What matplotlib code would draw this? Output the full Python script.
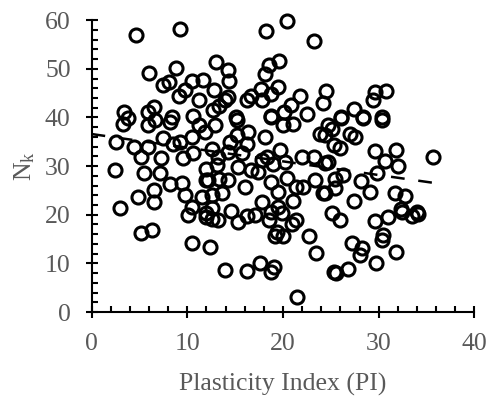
import matplotlib
matplotlib.use("Agg")
import matplotlib.pyplot as plt
import numpy as np

# Data
pi_values = [
    4.6, 9.2, 13.0, 6.0, 8.8, 7.5, 8.1, 10.5, 11.6, 9.8, 9.1, 11.2, 6.5, 3.4, 5.9, 8.4,
    10.6, 12.7, 3.8, 18.2, 20.4, 23.2, 14.3, 14.4, 12.8, 13.9, 13.3, 15.1, 18.5, 19.6,
    18.1, 17.7, 19.5, 18.8, 16.7, 16.2, 21.8, 20.8, 20.1, 24.5, 24.2, 18.7, 30.8, 29.6,
    29.4, 27.4, 26.1, 28.4, 30.3, 3.3, 5.9, 6.6, 8.2, 11.2, 2.6, 4.4, 5.9, 5.2, 7.3,
    8.5, 7.5, 9.2, 10.5, 10.6, 11.9, 2.5, 5.5, 7.2, 9.4, 8.2, 12.0, 6.5, 4.9, 6.5, 3.0,
    9.8, 10.5, 10.1, 12.0, 11.5, 5.2, 6.3, 12.0, 10.5, 12.4, 13.9, 16.2, 17.6, 18.7,
    19.1, 19.2, 20.0, 22.7, 23.5, 21.5, 12.6, 13.2, 15.3, 16.2, 17.1, 18.7, 19.9, 20.9,
    21.4, 25.3, 26.0, 29.6, 31.0, 32.4, 33.5, 34.1, 27.2, 28.3, 28.0, 30.5, 30.3, 31.8,
    29.7, 25.5, 26.8, 26.1, 25.1, 28.4, 30.3, 27.0, 27.5, 26.0, 29.6, 31.8, 30.7, 32.0,
    35.7, 24.4, 29.8, 26.3, 25.4, 28.2, 25.4, 29.1, 31.7, 32.8, 27.4, 32.3, 34.0, 24.4,
    12.9, 15.2, 16.4, 14.5, 16.2, 12.6, 14.3, 15.7, 13.1, 15.3, 14.3, 12.2, 16.0, 13.6,
    12.6, 18.7, 20.0, 21.1, 18.1, 19.7, 22.0, 20.2, 19.0, 17.8, 18.7, 20.4, 22.1, 19.5,
    17.8, 19.5, 21.1, 23.4, 24.2, 23.9, 24.4, 24.7, 24.7, 14.6, 12.6, 21.4, 13.2, 17.4,
    12.0, 14.3, 18.3, 25.3, 13.3, 18.5, 25.1, 23.2, 16.7, 9.6, 15.2, 17.8, 22.5, 19.4,
]
nk_values = [
    56.9, 58.1, 51.4, 49.2, 50.2, 46.6, 47.3, 47.6, 47.8, 45.6, 44.4, 43.5, 42.2, 41.1,
    41.1, 40.1, 40.4, 41.5, 39.8, 57.8, 59.8, 55.7, 49.7, 47.4, 45.6, 43.5, 42.3, 40.1,
    50.7, 51.7, 48.9, 45.9, 46.3, 44.8, 44.4, 43.5, 44.4, 42.6, 41.1, 45.4, 43.0, 40.1,
    45.4, 45.2, 43.5, 41.8, 40.2, 40.1, 40.0, 38.7, 38.4, 39.4, 39.1, 38.4, 35.0, 33.9,
    33.9, 31.9, 31.6, 34.6, 35.7, 35.0, 36.0, 32.6, 37.0, 29.3, 28.6, 28.6, 26.5, 26.3,
    27.1, 25.0, 23.6, 22.6, 21.4, 24.0, 21.6, 19.9, 20.3, 23.7, 16.2, 16.8, 19.6, 14.1,
    13.4, 8.6, 8.5, 10.1, 8.3, 9.2, 15.6, 15.6, 15.6, 12.2, 3.1, 19.2, 18.9, 18.5, 19.7,
    19.9, 20.6, 20.3, 18.2, 19.0, 8.3, 19.0, 18.7, 19.6, 20.6, 19.7, 20.1, 14.1, 13.1,
    11.7, 15.8, 14.8, 12.4, 10.1, 8.1, 8.8, 39.8, 37.7, 39.8, 39.4, 36.7, 36.0, 33.8,
    33.1, 33.4, 31.1, 30.0, 31.9, 30.6, 28.5, 28.1, 27.4, 27.0, 25.4, 24.7, 24.4, 23.8,
    22.9, 21.1, 20.6, 24.4, 38.4, 39.4, 37.0, 35.0, 34.6, 33.6, 32.9, 32.6, 30.2, 29.9,
    27.1, 27.1, 25.7, 24.4, 24.0, 40.4, 38.4, 38.7, 36.0, 33.3, 31.9, 30.9, 30.5, 31.2,
    26.8, 27.5, 25.7, 24.7, 22.6, 21.6, 22.9, 27.1, 24.4, 36.7, 36.3, 38.4, 30.9, 20.7,
    21.3, 25.7, 31.9, 28.8, 29.5, 44.2, 31.9, 34.3, 27.4, 18.9, 20.3, 31.9, 29.2, 31.6,
    36.3, 43.5, 40.8, 16.5,
]
trend_x = [0.0, 36.3]
trend_y = [36.6, 26.4]

x_ticks = [0, 10, 20, 30, 40]
y_ticks = [0, 10, 20, 30, 40, 50, 60]

plt.rcParams['font.family'] = ['Liberation Serif', 'DejaVu Serif']
plt.rcParams['mathtext.fontset'] = 'custom'
plt.rcParams['mathtext.rm'] = 'Liberation Serif'
plt.rcParams['mathtext.it'] = 'Liberation Serif:italic'

fig = plt.figure(figsize=(4.87, 3.96), dpi=100)
ax = fig.add_axes([0.188, 0.212, 0.786, 0.737])

ax.plot(pi_values, nk_values, linestyle='none', marker='o', markersize=9.4,
        markerfacecolor='none', markeredgecolor='black', markeredgewidth=2.2,
        clip_on=False, zorder=3)
ax.plot(trend_x, trend_y, color='black', linewidth=1.8, dashes=(5.5, 5.5), zorder=4)

ax.set_xlim(0, 40)
ax.set_ylim(0, 60)
ax.set_xticks(x_ticks)
ax.set_yticks(y_ticks)
ax.set_xticks(np.arange(0, 41, 2), minor=True)
ax.set_yticks(np.arange(0, 61, 2), minor=True)

for s in ['top', 'right']:
    ax.spines[s].set_visible(False)
for s in ['left', 'bottom']:
    ax.spines[s].set_linewidth(1.5)
    ax.spines[s].set_color('black')

ax.tick_params(which='major', direction='inout', length=9, width=1.5,
               labelsize=18.5, labelcolor='#595959', pad=10.5)
ax.tick_params(which='minor', direction='in', length=4.5, width=1.5)

ax.set_xlabel('Plasticity Index (PI)', fontsize=18.5, color='#595959', labelpad=13)
ax.set_ylabel(r'N$_{\mathrm{k}}$', fontsize=18.5, color='#595959', labelpad=6)

fig.savefig('out.png', dpi=100)
